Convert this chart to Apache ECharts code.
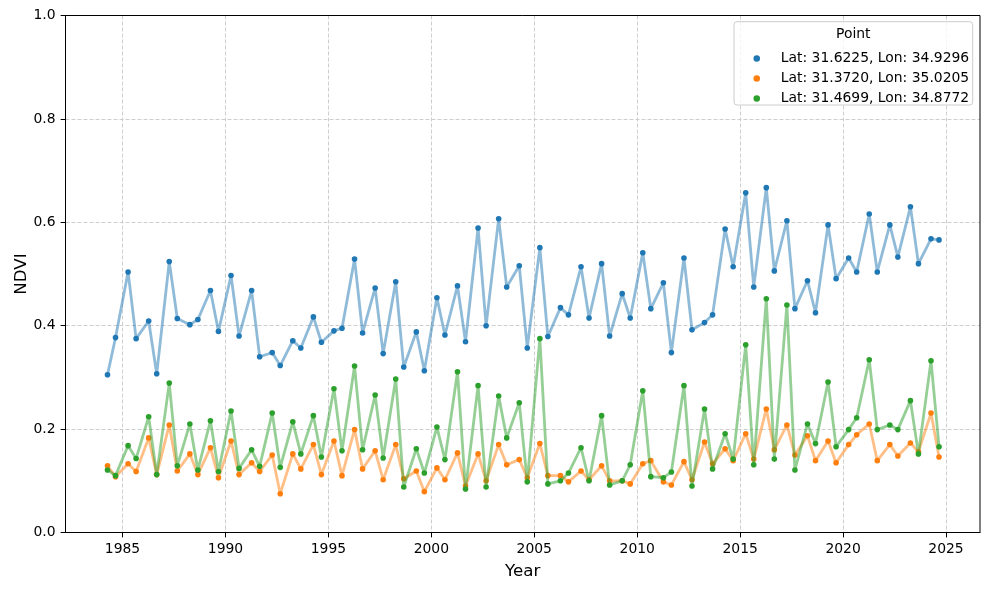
<!DOCTYPE html>
<html>
<head>
<meta charset="utf-8">
<script src="https://cdn.jsdelivr.net/npm/echarts@6/dist/echarts.min.js"></script>
<style>
html, body { margin: 0; padding: 0; background: #fff; }
#chart { width: 990px; height: 589px; }
</style>
</head>
<body>
<div id="chart"></div>
<script>
// Acquisition years; two scenes per year (spring ~early April, late summer ~end of August)
const years = [1984, 1985, 1986, 1987, 1988, 1989, 1990, 1991, 1992, 1993, 1994,
  1995, 1996, 1997, 1998, 1999, 2000, 2001, 2002, 2003, 2004, 2005, 2006, 2007,
  2008, 2009, 2010, 2011, 2012, 2013, 2014, 2015, 2016, 2017, 2018, 2019, 2020,
  2021, 2022, 2023, 2024];
const sceneYearFraction = [0.27, 0.66];

const seriesNames = ['Lat: 31.6225, Lon: 34.9296', 'Lat: 31.3720, Lon: 35.0205', 'Lat: 31.4699, Lon: 34.8772'];

// NDVI values, pairs per year [spring, late summer]
const ndviPoint1 = [
  0.305, 0.377, 0.504, 0.375, 0.409, 0.307, 0.524, 0.414, 0.402, 0.412,
  0.468, 0.389, 0.497, 0.380, 0.468, 0.340, 0.348, 0.323, 0.371, 0.357,
  0.417, 0.368, 0.390, 0.395, 0.529, 0.386, 0.473, 0.346, 0.485, 0.320,
  0.388, 0.313, 0.454, 0.382, 0.477, 0.369, 0.589, 0.400, 0.607, 0.475,
  0.516, 0.357, 0.551, 0.379, 0.435, 0.421, 0.514, 0.415, 0.520, 0.380,
  0.462, 0.415, 0.541, 0.433, 0.483, 0.348, 0.531, 0.392, 0.406, 0.421,
  0.587, 0.514, 0.657, 0.475, 0.667, 0.506, 0.603, 0.433, 0.487, 0.425,
  0.595, 0.491, 0.531, 0.504, 0.616, 0.504, 0.595, 0.533, 0.630, 0.520,
  0.568, 0.566
];
const ndviPoint2 = [
  0.129, 0.108, 0.133, 0.118, 0.183, 0.112, 0.208, 0.119, 0.152, 0.112,
  0.164, 0.106, 0.177, 0.112, 0.135, 0.118, 0.150, 0.075, 0.152, 0.123,
  0.170, 0.112, 0.177, 0.110, 0.199, 0.123, 0.158, 0.102, 0.170, 0.104,
  0.119, 0.079, 0.125, 0.102, 0.154, 0.090, 0.152, 0.100, 0.170, 0.131,
  0.141, 0.106, 0.172, 0.110, 0.110, 0.098, 0.119, 0.102, 0.129, 0.100,
  0.100, 0.094, 0.133, 0.139, 0.098, 0.092, 0.137, 0.102, 0.175, 0.133,
  0.162, 0.139, 0.191, 0.142, 0.239, 0.160, 0.208, 0.150, 0.187, 0.139,
  0.177, 0.135, 0.170, 0.189, 0.210, 0.139, 0.170, 0.148, 0.173, 0.156,
  0.231, 0.146
];
const ndviPoint3 = [
  0.121, 0.110, 0.168, 0.143, 0.224, 0.112, 0.289, 0.129, 0.210, 0.121,
  0.216, 0.118, 0.235, 0.124, 0.160, 0.128, 0.231, 0.126, 0.214, 0.152,
  0.226, 0.146, 0.278, 0.158, 0.322, 0.160, 0.266, 0.144, 0.297, 0.088,
  0.162, 0.115, 0.204, 0.141, 0.311, 0.084, 0.284, 0.088, 0.264, 0.183,
  0.251, 0.098, 0.375, 0.094, 0.100, 0.115, 0.164, 0.100, 0.226, 0.092,
  0.100, 0.131, 0.274, 0.108, 0.106, 0.117, 0.284, 0.090, 0.239, 0.123,
  0.191, 0.142, 0.363, 0.131, 0.452, 0.142, 0.440, 0.121, 0.210, 0.172,
  0.291, 0.166, 0.199, 0.222, 0.334, 0.199, 0.208, 0.199, 0.255, 0.152,
  0.332, 0.166
];

const xTickYears = [1985, 1990, 1995, 2000, 2005, 2010, 2015, 2020, 2025];
const yTicks = [0.0, 0.2, 0.4, 0.6, 0.8, 1.0];

const colors = ['#1f77b4', '#ff7f0e', '#2ca02c'];

const sceneDates = [];
years.forEach(y => sceneYearFraction.forEach(f => sceneDates.push(y + f)));

function pairs(vals) { return vals.map((v, i) => [sceneDates[i], v]); }
const allVals = [ndviPoint1, ndviPoint2, ndviPoint3];

const FONT = 'DejaVu Sans';
const GRID = { left: 65.5, top: 15.5, right: 10, bottom: 56.5 };
const chart = echarts.init(document.getElementById('chart'), null, { renderer: 'canvas' });
const W = 990, H = 589;

chart.setOption({
  animation: false,
  backgroundColor: '#ffffff',
  textStyle: { fontFamily: FONT },
  grid: {
    left: GRID.left, top: GRID.top, right: GRID.right, bottom: GRID.bottom,
    show: false, containLabel: false, outerBoundsMode: 'none'
  },
  xAxis: {
    type: 'value',
    min: 1982.23, max: 2026.65,
    name: 'Year', nameLocation: 'middle', nameGap: 31, nameMoveOverlap: false,
    nameTextStyle: { fontSize: 16.7, color: '#000', fontFamily: FONT },
    axisLine: { show: true, onZero: false, lineStyle: { color: '#000', width: 1 } },
    axisTick: { show: true, length: 4.9, customValues: xTickYears, lineStyle: { color: '#000', width: 1 } },
    axisLabel: { show: true, customValues: xTickYears, margin: 10, fontSize: 13.9, color: '#000', fontFamily: FONT,
      formatter: v => String(v) },
    splitLine: { show: true, lineStyle: { color: '#c8c8c8', width: 0.9, type: [4, 2] } }
  },
  yAxis: {
    type: 'value',
    min: 0, max: 1, interval: 0.2,
    name: 'NDVI', nameLocation: 'middle', nameGap: 35, nameMoveOverlap: false,
    nameTextStyle: { fontSize: 16.7, color: '#000', fontFamily: FONT },
    axisLine: { show: true, lineStyle: { color: '#000', width: 1 } },
    axisTick: { show: true, length: 4.9, customValues: yTicks, lineStyle: { color: '#000', width: 1 } },
    axisLabel: { show: true, customValues: yTicks, margin: 10, fontSize: 13.9, color: '#000', fontFamily: FONT,
      formatter: v => Number(v).toFixed(1) },
    splitLine: { show: true, lineStyle: { color: '#c8c8c8', width: 0.9, type: [4, 2] } }
  },
  legend: {
    orient: 'vertical',
    left: 748.5, top: 46.4,
    icon: 'circle',
    itemWidth: 38, itemHeight: 6.5,
    itemGap: 6,
    symbolKeepAspect: true,
    textStyle: { fontSize: 13.9, color: '#000', fontFamily: FONT, lineHeight: 14 },
    data: seriesNames.map((n, i) => ({ name: n, itemStyle: { color: colors[i], opacity: 1 } })),
    z: 10
  },
  graphic: [
    {
      type: 'rect', z: 50, silent: true,
      shape: { x: GRID.left, y: GRID.top, width: W - GRID.left - GRID.right, height: H - GRID.top - GRID.bottom },
      style: { fill: 'none', stroke: '#000', lineWidth: 1 }
    },
    {
      type: 'rect', z: 5,
      shape: { x: 734, y: 21.7, width: 238.7, height: 83.3, r: 3 },
      style: { fill: 'rgba(255,255,255,0.8)', stroke: '#cccccc', lineWidth: 1 }
    },
    {
      type: 'text', z: 6,
      x: 853.3, y: 34.6,
      style: { text: 'Point', fill: '#000', font: '13.9px "DejaVu Sans"', textAlign: 'center', textVerticalAlign: 'middle' }
    }
  ],
  series: allVals.map((vals, i) => ({
    name: seriesNames[i],
    type: 'line',
    data: pairs(vals),
    symbol: 'circle',
    symbolSize: 5.6,
    showAllSymbol: true,
    color: colors[i],
    lineStyle: { color: colors[i], width: 2.8, opacity: 0.5 },
    itemStyle: { color: colors[i], opacity: 1 },
    emphasis: { disabled: true },
    z: 2 + i
  }))
});
</script>
</body>
</html>
